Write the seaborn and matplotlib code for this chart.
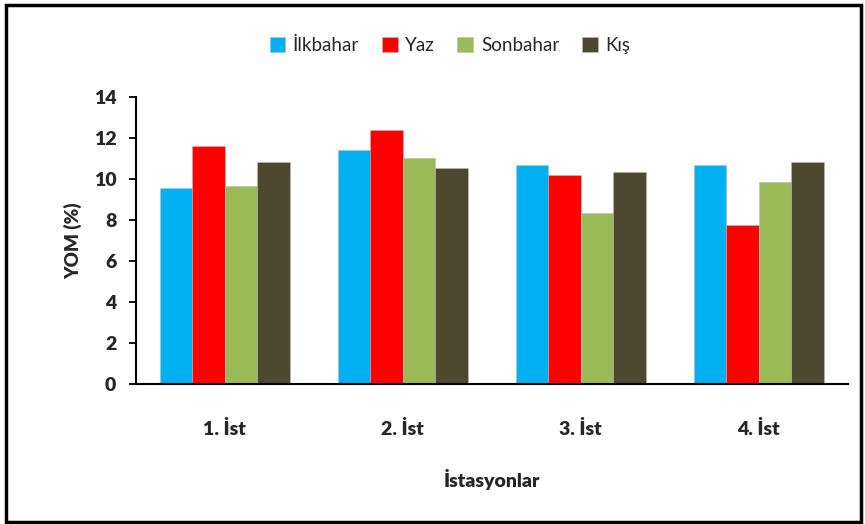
import pandas as pd
import numpy as np
import matplotlib.pyplot as plt
import seaborn as sns
from matplotlib.patches import Rectangle

stations = ['1. İst', '2. İst', '3. İst', '4. İst']
seasons = ['İlkbahar', 'Yaz', 'Sonbahar', 'Kış']
ilkbahar = [9.55, 11.4, 10.7, 10.7]
yaz = [11.6, 12.4, 10.2, 7.75]
sonbahar = [9.65, 11.0, 8.35, 9.85]
kis = [10.85, 10.55, 10.35, 10.85]

colors = ['#00B0F0', '#FF0000', '#9BBB59', '#4D4830']

df = pd.DataFrame({
    'İstasyon': stations * 4,
    'Mevsim': np.repeat(seasons, 4),
    'YOM': ilkbahar + yaz + sonbahar + kis,
})

sns.set_style('white')
plt.rcParams['font.family'] = ['Lato', 'DejaVu Sans']

fig = plt.figure(figsize=(8.65, 5.24), dpi=100)
ax = fig.add_axes([0.157, 0.267, 0.823, 0.548])

sns.barplot(data=df, x='İstasyon', y='YOM', hue='Mevsim', hue_order=seasons,
            palette=colors, width=0.73, gap=0, saturation=1,
            edgecolor='#bbbbbb', linewidth=0.4, ax=ax)

ax.set_ylim(0, 14)
ax.set_yticks(range(0, 15, 2))
ax.set_xlim(-0.5, 3.5)
ax.set_ylabel('YOM (%)', fontsize=13.5, fontweight='heavy', labelpad=8)
ax.set_xlabel('İstasyonlar', fontsize=14, fontweight='heavy', labelpad=22)
ax.tick_params(axis='y', length=5, width=1.3, color='black', pad=9, left=True, labelsize=14)
ax.tick_params(axis='x', length=0, pad=26, labelsize=14)
for lab in ax.get_xticklabels() + ax.get_yticklabels():
    lab.set_fontweight('heavy')
ax.spines['top'].set_visible(False)
ax.spines['right'].set_visible(False)
for s in ['left', 'bottom']:
    ax.spines[s].set_color('black')
    ax.spines[s].set_linewidth(1.5)

ax.legend(loc='center', bbox_to_anchor=(0.52, 0.914), bbox_transform=fig.transFigure,
          ncol=4, frameon=False, fontsize=13.5, handlelength=0.85, handleheight=0.85,
          handletextpad=0.4, columnspacing=1.2)

fig.patches.append(Rectangle((0.007, 0.004), 0.988, 0.986, transform=fig.transFigure,
                             fill=False, edgecolor='black', linewidth=2.5))

fig.savefig('out.png', dpi=100)
